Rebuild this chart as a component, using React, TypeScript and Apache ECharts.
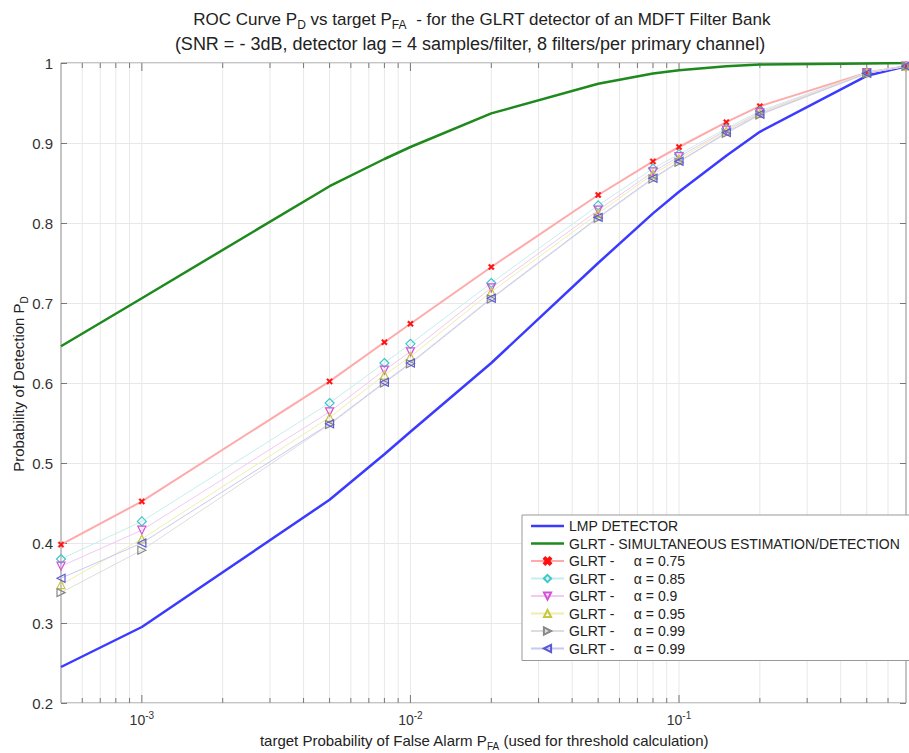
import React, { useEffect, useRef } from 'react';
import * as echarts from 'echarts';

const FONT = '"Liberation Sans", Arial, Helvetica, sans-serif';

// target probability of false alarm (x positions of the curves' vertices)
const pfa = [0.0005, 0.001, 0.005, 0.008, 0.01, 0.02, 0.05, 0.08, 0.1, 0.15, 0.2, 0.5, 0.7];

const lmp = [0.245, 0.295, 0.454, 0.511, 0.539, 0.625, 0.75, 0.812, 0.839, 0.884, 0.914, 0.984, 0.996];
const glrtSim = [0.646, 0.706, 0.846, 0.88, 0.895, 0.937, 0.974, 0.987, 0.991, 0.996, 0.998, 0.9995, 1.0];
const a075 = [0.398, 0.452, 0.602, 0.651, 0.674, 0.745, 0.835, 0.877, 0.895, 0.926, 0.946, 0.988, 0.996];
const a085 = [0.38, 0.427, 0.575, 0.625, 0.649, 0.725, 0.822, 0.868, 0.886, 0.918, 0.94, 0.988, 0.996];
const a090 = [0.371, 0.416, 0.564, 0.616, 0.639, 0.719, 0.816, 0.864, 0.883, 0.916, 0.938, 0.988, 0.996];
const a095 = [0.348, 0.405, 0.557, 0.61, 0.633, 0.714, 0.812, 0.861, 0.88, 0.915, 0.937, 0.988, 0.996];
const a099a = [0.338, 0.391, 0.548, 0.6, 0.624, 0.705, 0.806, 0.855, 0.876, 0.912, 0.935, 0.987, 0.996];
const a099b = [0.356, 0.4, 0.549, 0.601, 0.625, 0.706, 0.807, 0.856, 0.877, 0.913, 0.936, 0.987, 0.996];

// log-axis grid/tick positions
const xGrid = [
  0.0006, 0.0007, 0.0008, 0.0009,
  0.001, 0.002, 0.003, 0.004, 0.005, 0.006, 0.007, 0.008, 0.009,
  0.01, 0.02, 0.03, 0.04, 0.05, 0.06, 0.07, 0.08, 0.09,
  0.1, 0.2, 0.3, 0.4, 0.5, 0.6,
];
const xMajor = [0.001, 0.01, 0.1];

const NB = '\u00a0';
const names = [
  'LMP DETECTOR',
  'GLRT - SIMULTANEOUS ESTIMATION/DETECTION',
  `GLRT -${NB.repeat(5)}α = 0.75`,
  `GLRT -${NB.repeat(5)}α = 0.85`,
  `GLRT -${NB.repeat(5)}α = 0.9`,
  `GLRT -${NB.repeat(5)}α = 0.95`,
  `GLRT -${NB.repeat(5)}α = 0.99`,
  `GLRT -${NB.repeat(5)}α = 0.99${NB}`,
];

const pts = (ys: number[]) => pfa.map((x, i) => [x, ys[i]]);

const XMARK = 'path://M2,0 L5,3 L8,0 L10,2 L7,5 L10,8 L8,10 L5,7 L2,10 L0,8 L3,5 L0,2 Z';
const LINEICON = 'path://M0,0 L33,0 L33,2.5 L0,2.5 Z';

function glrt(name: string, ys: number[], lineColor: string, markColor: string, symbol: string, rotate: number, width: number, filled: boolean, size: number) {
  return {
    type: 'line',
    name,
    data: pts(ys),
    symbol,
    symbolSize: size,
    symbolRotate: rotate,
    showSymbol: true,
    lineStyle: { color: lineColor, width },
    itemStyle: filled
      ? { color: markColor, borderColor: markColor, borderWidth: 0.5 }
      : { color: 'rgba(255,255,255,0)', borderColor: markColor, borderWidth: 1.2 },
    emphasis: { disabled: true },
    z: 3,
  };
}

export default function App() {
  const ref = useRef<HTMLDivElement>(null);
  useEffect(() => {
    const chart = echarts.init(ref.current!, undefined, { renderer: 'svg' });
    const subRich = (size: number, sub: number, lh: number) => ({
      n: { fontSize: size, fontFamily: FONT, fill: '#222', lineHeight: lh, verticalAlign: 'middle' },
      s: { fontSize: sub, fontFamily: FONT, fill: '#222', verticalAlign: 'bottom' },
    });
    const option: any = {
      animation: false,
      backgroundColor: '#ffffff',
      textStyle: { fontFamily: FONT },
      grid: { left: 61, right: 3, top: 63, bottom: 50, show: true, borderColor: '#8a8a8a', borderWidth: 1, backgroundColor: '#ffffff' },
      graphic: [
        {
          type: 'text', x: 482, y: 7, z: 10,
          style: {
            text: '{n|ROC Curve P}{s|D}{n| vs target P}{s|FA}{n|  - for the GLRT detector of an MDFT Filter Bank}',
            textAlign: 'center',
            rich: subRich(17, 12, 24),
          },
        },
        {
          type: 'text', x: 470, y: 35, z: 10,
          style: {
            text: '(SNR = - 3dB, detector lag = 4 samples/filter, 8 filters/per primary channel)',
            textAlign: 'center', fontSize: 18, fontFamily: FONT, fill: '#222',
          },
        },
        {
          type: 'text', x: 484, y: 729, z: 10,
          style: {
            text: '{n|target Probability of False Alarm P}{s|FA}{n| (used for threshold calculation)}',
            textAlign: 'center',
            rich: subRich(15, 10, 22),
          },
        },
        {
          type: 'text', x: 7, y: 384, z: 10, rotation: Math.PI / 2,
          style: {
            text: '{n|Probability of Detection P}{s|D}',
            textAlign: 'center',
            rich: subRich(15, 10, 22),
          },
        },
      ],
      xAxis: {
        type: 'log', logBase: 10, min: 0.0005, max: 0.7,
        axisLine: { show: false }, axisTick: { show: false }, splitLine: { show: false },
        axisLabel: {
          margin: 7,
          showMinLabel: false, showMaxLabel: false,
          formatter: (v: number) => {
            const l = Math.log10(v);
            if (Math.abs(l - Math.round(l)) > 1e-6) return '';
            return `{b|10}{p|${Math.round(l)}}`;
          },
          rich: {
            b: { fontSize: 14, color: '#333', fontFamily: FONT, lineHeight: 20, verticalAlign: 'middle' },
            p: { fontSize: 10, color: '#333', fontFamily: FONT, verticalAlign: 'top' },
          },
        },
      },
      yAxis: [
        {
          type: 'value', min: 0.2, max: 1, interval: 0.1,
          axisLine: { show: false },
          axisTick: { show: true, inside: true, length: 6, lineStyle: { color: '#777' } },
          splitLine: { show: true, lineStyle: { color: '#e8e8e8', width: 1 } },
          axisLabel: { color: '#333', fontSize: 15, fontFamily: FONT, margin: 8 },
        },
        {
          type: 'value', min: 0.2, max: 1, interval: 0.1, position: 'right',
          axisLine: { show: false },
          axisTick: { show: true, inside: true, length: 6, lineStyle: { color: '#777' } },
          splitLine: { show: false },
          axisLabel: { show: false },
        },
      ],
      legend: {
        orient: 'vertical', left: 522, top: 515,
        data: [
          { name: names[0], icon: LINEICON },
          { name: names[1], icon: LINEICON },
          ...names.slice(2),
        ],
        itemWidth: 33, itemHeight: 9, itemGap: 3.5,
        padding: [4, 12, 5, 8],
        backgroundColor: '#ffffff', borderColor: '#999', borderWidth: 1, borderRadius: 0,
        textStyle: { fontSize: 14, color: '#222', fontFamily: FONT, lineHeight: 14 },
        selectedMode: false,
      },
      series: [
        {
          type: 'custom', name: 'grid', silent: true, z: 1,
          data: xGrid.map((x) => [x, 0.6]),
          encode: { x: 0, y: 1 },
          renderItem: (params: any, api: any) => {
            const x = api.value(0);
            const p0 = api.coord([x, 0.2]);
            const p1 = api.coord([x, 1]);
            const major = xMajor.some((m) => Math.abs(m - x) / m < 1e-6);
            const tl = major ? 8 : 5;
            return {
              type: 'group',
              children: [
                { type: 'line', shape: { x1: p0[0], y1: p0[1], x2: p1[0], y2: p1[1] }, style: { stroke: '#e8e8e8', lineWidth: 1 } },
                { type: 'line', shape: { x1: p0[0], y1: p0[1], x2: p0[0], y2: p0[1] - tl }, style: { stroke: '#777', lineWidth: 1 } },
                { type: 'line', shape: { x1: p1[0], y1: p1[1], x2: p1[0], y2: p1[1] + tl }, style: { stroke: '#777', lineWidth: 1 } },
              ],
            };
          },
        },
        {
          type: 'line', name: names[0], data: pts(lmp), symbol: 'none', showSymbol: false,
          lineStyle: { color: '#3b3bff', width: 2.5 }, itemStyle: { color: '#3b3bff' }, z: 2,
        },
        {
          type: 'line', name: names[1], data: pts(glrtSim), symbol: 'none', showSymbol: false,
          lineStyle: { color: '#1e8a1e', width: 2.5 }, itemStyle: { color: '#1e8a1e' }, z: 2,
        },
        glrt(names[2], a075, '#ffaaaa', '#ff1010', XMARK, 0, 2, true, 6),
        glrt(names[3], a085, '#c6eeee', '#3cc8c8', 'diamond', 0, 1, false, 9),
        glrt(names[4], a090, '#f3c8f3', '#d64fd6', 'triangle', 180, 1, false, 8),
        glrt(names[5], a095, '#eeeeb0', '#c8c840', 'triangle', 0, 1, false, 8),
        glrt(names[6], a099a, '#dddddd', '#888888', 'triangle', -90, 1, false, 8),
        glrt(names[7], a099b, '#c8c8f2', '#5a5ad8', 'triangle', 90, 1, false, 8),
      ],
    };
    chart.setOption(option);
    return () => chart.dispose();
  }, []);
  return <div ref={ref} style={{ position: 'fixed', left: 0, top: 0, width: 909, height: 753, background: '#fff' }} />;
}
